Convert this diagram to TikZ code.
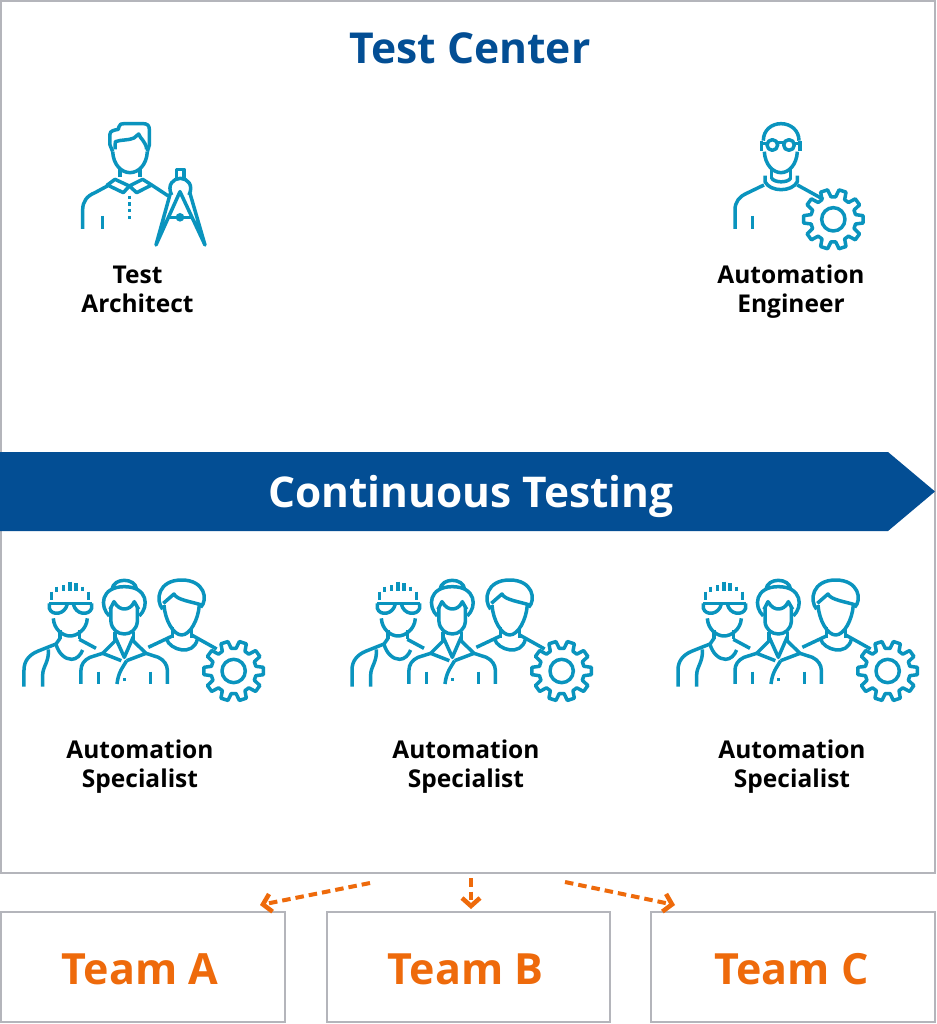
\documentclass[tikz,border=0pt]{standalone}
\usepackage{fontspec}
\setmainfont{Open Sans}
\usetikzlibrary{arrows.meta}
\definecolor{iconblue}{HTML}{0A94BE}
\definecolor{navy}{HTML}{034E94}
\definecolor{teamorange}{HTML}{EE6A0B}
\definecolor{boxgray}{HTML}{B4B5BB}
\tikzset{
  icon/.style={draw=iconblue,line width=3.5pt,line cap=butt,line join=round,fill=none},
  gearpic/.pic={
    \begin{scope}[x=.3333pt,y=-.3333pt]
    \draw[icon] (0,0) circle (35);
    \draw[icon] (-12:68)
      \foreach \a in {0,36,...,324}{ -- (\a-12:68) -- (\a-7:90) -- (\a+7:90) -- (\a+12:68) } -- cycle;
    \end{scope}
  },
  architect/.pic={
    \begin{scope}[x=.3333pt,y=-.3333pt]
    \draw[icon] (128,125) -- (120,105) -- (120,72) .. controls (120,62) and (135,60) .. (145,58) -- (147,50) .. controls (149,42) and (154,41) .. (162,41) -- (220,41) .. controls (232,41) and (238,47) .. (238,58) -- (238,105) -- (232,125);
    \draw[icon] (128,125) .. controls (130,165) and (155,188) .. (180,188) .. controls (205,188) and (230,165) .. (232,125);
    \draw[icon] (135,118) -- (136,95) .. controls (155,88) and (175,92) .. (192,84) -- (206,72) .. controls (210,85) and (228,95) .. (230,118);
    \draw[icon] (150,175) -- (150,202) (210,175) -- (210,202);
    \draw[icon] (112,225) -- (135,208) -- (178,228) -- (160,248) -- cycle;
    \draw[icon] (178,228) -- (218,208) -- (245,225) -- (200,248) -- cycle;
    \draw[icon] (112,228) -- (75,248) .. controls (50,258) and (38,275) .. (38,300) -- (38,357);
    \draw[icon] (245,225) -- (295,258);
    \draw[icon] (97,318) -- (97,357);
    \draw[icon,dash pattern=on 3.3pt off 3.4pt] (178,257) -- (178,328);
    \draw[icon] (320,205) -- (320,178) -- (342,178) -- (342,205);
    \draw[icon] (305,255) .. controls (290,225) and (310,205) .. (331,205) .. controls (352,205) and (372,225) .. (357,255);
    \draw[icon] (301,250) -- (258,405) -- (330,245) -- (405,405) -- (360,250);
    \draw[icon] (290,322) -- (370,322);
    \fill[iconblue] (330,322) circle (13);
    \end{scope}
  },
  engineer/.pic={
    \begin{scope}[x=.3333pt,y=-.3333pt]
    \draw[icon] (130,92) .. controls (130,60) and (155,41) .. (183,41) .. controls (211,41) and (237,60) .. (237,92);
    \draw[icon] (133,125) .. controls (135,165) and (160,188) .. (183,188) .. controls (206,188) and (230,165) .. (232,125);
    \draw[icon] (125,92) -- (125,122) (240,92) -- (240,122);
    \draw[icon] (157,105) circle (16) (207,105) circle (16);
    \draw[icon] (172,98) -- (192,98) (125,100) -- (141,100) (223,100) -- (240,100);
    \draw[icon] (155,175) -- (155,207) (212,175) -- (212,207);
    \draw[icon] (135,197) -- (135,215) .. controls (150,247) and (217,247) .. (232,215) -- (232,197);
    \draw[icon] (155,205) .. controls (165,219) and (202,219) .. (212,205);
    \draw[icon] (132,225) -- (80,250) .. controls (58,260) and (45,275) .. (45,300) -- (45,357);
    \draw[icon] (232,225) -- (310,268);
    \draw[icon] (97,318) -- (97,357);
    \pic at (340,328) {gearpic};
    \end{scope}
  },
  crew/.pic={
    \begin{scope}[x=.3333pt,y=-.3333pt]
    % left person
    \draw[icon] (125,65) -- (125,90) (140,50) -- (140,65) (160,45) -- (160,62) (180,35) -- (180,62) (198,40) -- (198,62) (218,50) -- (218,64) (236,65) -- (236,90);
    \draw[icon] (118,100) -- (245,100);
    \draw[icon] (118,100) -- (118,115) .. controls (125,138) and (165,135) .. (172,102);
    \draw[icon] (190,102) .. controls (197,135) and (237,138) .. (245,115) -- (245,100);
    \draw[icon] (130,145) .. controls (132,180) and (160,198) .. (180,198) .. controls (200,198) and (230,180) .. (232,145);
    \draw[icon] (150,180) -- (150,208) (208,180) -- (208,208);
    \draw[icon] (138,222) .. controls (145,250) and (165,268) .. (185,268) .. controls (200,268) and (212,255) .. (218,240);
    \draw[icon] (150,205) -- (138,222) -- (85,243) .. controls (55,255) and (42,275) .. (42,300) -- (42,350);
    \draw[icon] (115,238) .. controls (118,275) and (98,290) .. (98,315) -- (98,350);
    \draw[icon] (208,208) -- (258,235);
    % middle person
    \draw[icon] (306,58) .. controls (310,22) and (376,22) .. (380,58);
    \draw[icon] (298,138) .. controls (268,110) and (272,50) .. (343,50) .. controls (414,50) and (418,110) .. (388,138);
    \draw[icon] (300,118) -- (312,95) .. controls (322,112) and (333,117) .. (343,117) .. controls (353,117) and (366,112) .. (373,95) -- (386,118);
    \draw[icon] (303,112) -- (303,155) .. controls (305,178) and (323,192) .. (343,192) .. controls (363,192) and (380,178) .. (382,155) -- (382,112);
    \draw[icon] (315,185) -- (315,215) (370,185) -- (370,215);
    \draw[icon] (315,200) -- (343,262) -- (370,200);
    \draw[icon] (315,213) -- (278,250) -- (334,272);
    \draw[icon] (370,213) -- (408,250) -- (350,272);
    \draw[icon] (278,250) -- (240,262) .. controls (222,270) and (213,285) .. (213,300) -- (213,342);
    \draw[icon] (408,250) -- (445,262) .. controls (462,270) and (472,285) .. (472,300) -- (472,342);
    \draw[icon] (350,272) .. controls (340,290) and (325,305) .. (321,342);
    \draw[icon] (265,305) -- (265,342) (422,305) -- (422,342);
    \fill[iconblue] (340,324) rectangle (349,333);
    % right person
    \draw[icon] (458,118) .. controls (435,90) and (445,30) .. (515,30) .. controls (585,30) and (595,90) .. (572,112);
    \draw[icon] (460,100) -- (492,72) .. controls (500,90) and (545,95) .. (575,105);
    \draw[icon] (462,105) .. controls (465,150) and (490,195) .. (515,195) .. controls (540,195) and (565,150) .. (568,105);
    \draw[icon] (487,172) -- (487,205) (545,172) -- (545,205);
    \draw[icon] (470,208) .. controls (480,240) and (550,260) .. (562,208);
    \draw[icon] (487,198) -- (415,232);
    \draw[icon] (545,195) -- (620,237);
    \pic at (671,303) {gearpic};
    \end{scope}
  },
  framebox/.style={draw=boxgray,line width=1.6pt,fill=white,inner sep=0pt,minimum height=110pt},
  teamtxt/.style={text=teamorange,font=\fontsize{43}{50}\selectfont\bfseries},
  rolelabel/.style={align=center,text=black,inner sep=0pt,font=\fontsize{24.5}{29}\selectfont\bfseries},
  flow/.style={draw=teamorange,line width=4pt,dash pattern=on 8.5pt off 5pt,-{Straight Barb[length=8pt,width=18pt,line width=4.5pt]}},
}
\begin{document}
\begin{tikzpicture}[x=1pt,y=-1pt]
\useasboundingbox (0,0) rectangle (936,1024);
\fill[white] (0,0) rectangle (936,1024);
\node[draw=boxgray,line width=1.6pt,minimum width=934pt,minimum height=872pt,inner sep=0pt] (center) at (468,437) {};
\node[inner sep=0pt,text=navy,font=\fontsize{42.6}{50}\selectfont\bfseries] (title) at (470,48) {Test Center};
\fill[navy] (0,452) -- (888,452) -- (935,491.5) -- (888,531) -- (0,531) -- cycle;
\node[inner sep=0pt,text=white,font=\fontsize{42.4}{50}\selectfont\bfseries] (ct) at (471,496) {Continuous Testing};

\pic at (70,110) {architect};
\pic at (720,110) {engineer};
\node[rolelabel] (ta) at (137.5,289.5) {Test\\Architect};
\node[rolelabel] (ae) at (791,291.5) {Automation\\Engineer};

\pic at (10,570) {crew};
\pic at (338,570) {crew};
\pic at (664,570) {crew};
\node[rolelabel] (s1) at (140,767) {Automation\\Specialist};
\node[rolelabel] (s2) at (466,767) {Automation\\Specialist};
\node[rolelabel] (s3) at (792,767) {Automation\\Specialist};

\node[framebox,minimum width=284pt] (teamA) at (143,967) {};
\node[framebox,minimum width=283pt] (teamB) at (468.5,967) {};
\node[framebox,minimum width=284pt] (teamC) at (793,967) {};
\node[teamtxt,inner sep=0pt] (la) at (140,969) {Team A};
\node[teamtxt,inner sep=0pt] (lb) at (465.5,969) {Team B};
\node[teamtxt,inner sep=0pt] (lc) at (791.5,969) {Team C};

\coordinate (fa) at (370,883);
\coordinate (ea) at (260,905);
\coordinate (fb) at (471,878);
\coordinate (eb) at (471,909);
\coordinate (fc) at (565,882);
\coordinate (ec) at (675,905);
\draw[flow] (fa) -- (ea);
\draw[flow] (fb) -- (eb);
\draw[flow] (fc) -- (ec);
\end{tikzpicture}
\end{document}
